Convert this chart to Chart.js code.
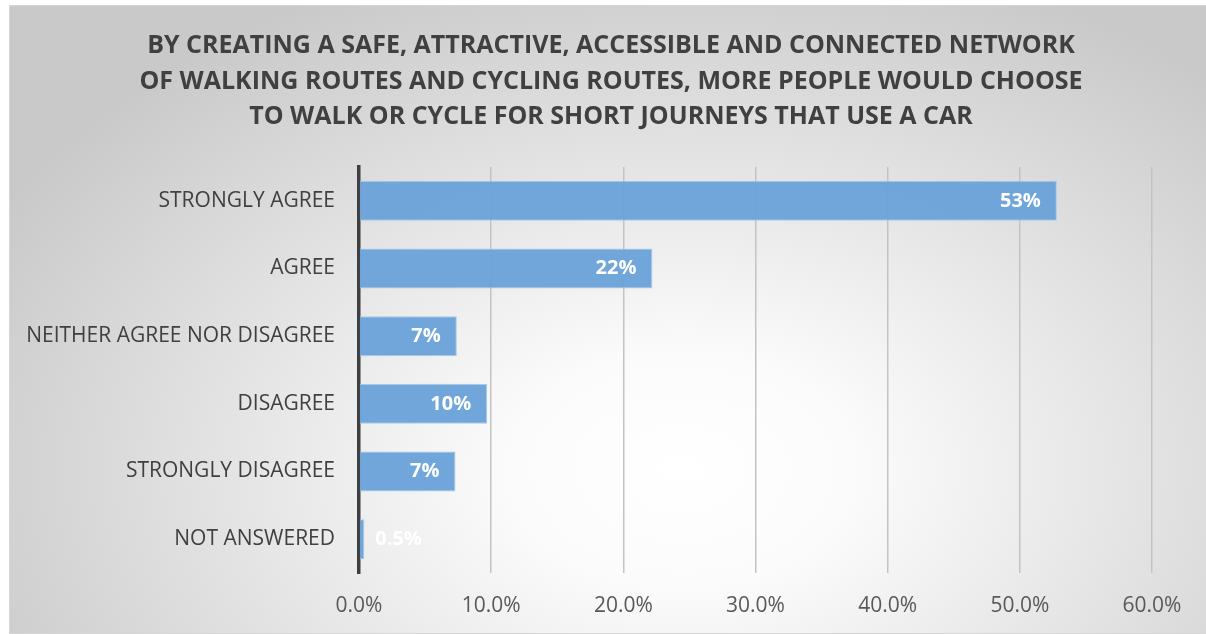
<!DOCTYPE html>
<html>
<head>
<meta charset="utf-8">
<script src="https://cdn.jsdelivr.net/npm/chart.js@4/dist/chart.umd.min.js"></script>
<style>
  html, body { margin: 0; padding: 0; width: 1206px; height: 634px; overflow: hidden; background: #ffffff; }
  #wrap {
    position: absolute; left: 9px; top: 5px; width: 1202px; height: 629px;
    box-sizing: border-box; border: 1px solid #d6d6d6;
    background: radial-gradient(ellipse 65% 85% at 56% 74%, #ffffff 0%, #fbfbfb 22%, #e4e4e4 58%, #c9c9c9 100%);
  }
  #c { position: absolute; left: 0; top: 0; }
</style>
</head>
<body>
<div id="wrap"><canvas id="c" width="1202" height="629"></canvas></div>
<script>
const titleLines = [
  "BY CREATING A SAFE, ATTRACTIVE, ACCESSIBLE AND CONNECTED NETWORK",
  "OF WALKING ROUTES AND CYCLING ROUTES, MORE PEOPLE WOULD CHOOSE",
  "TO WALK OR CYCLE FOR SHORT JOURNEYS THAT USE A CAR"
];
const categories = ["STRONGLY AGREE", "AGREE", "NEITHER AGREE NOR DISAGREE", "DISAGREE", "STRONGLY DISAGREE", "NOT ANSWERED"];
const values = [52.8, 22.2, 7.4, 9.7, 7.3, 0.4];
const valueLabels = ["53%", "22%", "7%", "10%", "7%", "0.5%"];
const xTicks = [0, 10, 20, 30, 40, 50, 60];

const FONT = "'Open Sans', 'Noto Sans', sans-serif";

const titlePlugin = {
  id: 'customTitle',
  afterDraw(chart) {
    const ctx = chart.ctx;
    ctx.save();
    ctx.font = "bold 25px " + FONT;
    ctx.fillStyle = "#404040";
    ctx.textAlign = "center";
    ctx.textBaseline = "middle";
    const cx = chart.width / 2;
    titleLines.forEach((t, i) => ctx.fillText(t, cx, 40 + i * 35.5));
    ctx.restore();
  }
};

const labelPlugin = {
  id: 'barLabels',
  afterDatasetsDraw(chart) {
    const ctx = chart.ctx;
    const meta = chart.getDatasetMeta(0);
    ctx.save();
    ctx.font = "bold 20px " + FONT;
    ctx.fillStyle = "#ffffff";
    ctx.textBaseline = "middle";
    meta.data.forEach((bar, i) => {
      const txt = valueLabels[i];
      const w = ctx.measureText(txt).width;
      let x = bar.x - 16 - w;
      if (x < bar.base + 4) x = bar.x + 11;
      ctx.textAlign = "left";
      ctx.fillText(txt, x, bar.y);
    });
    ctx.restore();
  }
};

new Chart(document.getElementById('c'), {
  type: 'bar',
  data: {
    labels: categories,
    datasets: [{
      data: values,
      backgroundColor: "rgba(108,163,217,0.97)",
      borderColor: "#a9c9ea",
      borderWidth: 1,
      borderSkipped: 'left',
      categoryPercentage: 1,
      barPercentage: 0.59
    }]
  },
  options: {
    indexAxis: 'y',
    responsive: false,
    animation: false,
    devicePixelRatio: 1,
    layout: { padding: { left: 0, right: 60, top: 161, bottom: 0 } },
    plugins: { legend: { display: false }, tooltip: { enabled: false }, title: { display: false } },
    scales: {
      x: {
        min: 0, max: 60,
        afterBuildTicks(scale) { scale.ticks = xTicks.map(v => ({ value: v })); },
        afterFit(scale) { scale.height = 62; },
        grid: {
          color: c => (c.tick && c.tick.value === 0) ? "rgba(0,0,0,0)" : "#c3c3c3",
          lineWidth: 1.5, drawTicks: false
        },
        border: { display: false },
        ticks: {
          padding: 20,
          color: "#595959",
          font: { family: FONT, size: 21 },
          callback: v => v.toFixed(1) + "%"
        }
      },
      y: {
        afterFit(scale) { scale.width = 349; },
        grid: { display: false, drawTicks: false },
        border: { display: true, color: "#3f3f3f", width: 3.5 },
        ticks: {
          padding: 24,
          color: "#404040",
          font: { family: FONT, size: 21 }
        }
      }
    }
  },
  plugins: [titlePlugin, labelPlugin]
});
</script>
</body>
</html>
